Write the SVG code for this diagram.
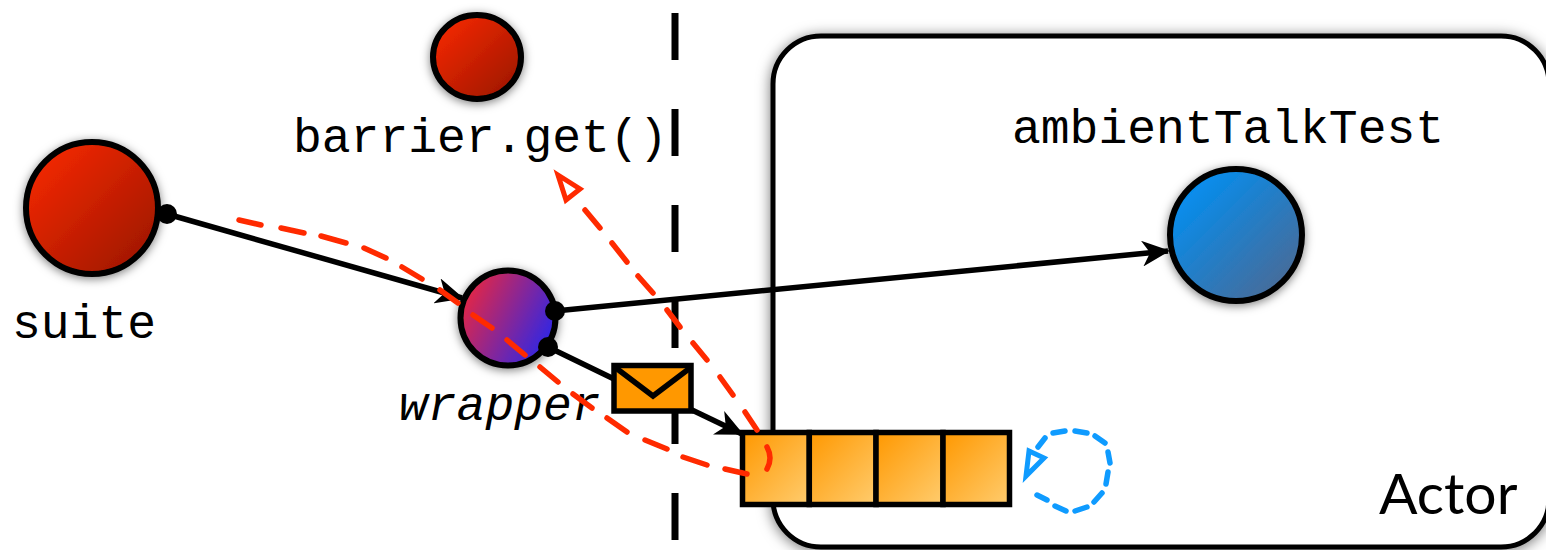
<svg xmlns="http://www.w3.org/2000/svg" width="1546" height="550" viewBox="0 0 1546 550">
<style>
.mono{font-family:"Liberation Mono","DejaVu Sans Mono",monospace;font-size:48px;fill:#000}
.ball{stroke:#000;stroke-width:6;filter:url(#sh)}
.line{fill:none;stroke:#000;stroke-width:5.5}
.dot{fill:#000}
.red{fill:none;stroke:#ff2a00;stroke-width:5.5;stroke-linecap:round}
.blue{fill:none;stroke:#0f9bff;stroke-width:5.5;stroke-linecap:round}
.cell{fill:url(#qg);stroke:#000;stroke-width:5.5}
</style>
<defs>
<linearGradient id="rg" x1="0.1" y1="0.1" x2="0.9" y2="0.9"><stop offset="0" stop-color="#f42800"/><stop offset="1" stop-color="#a01700"/></linearGradient>
<linearGradient id="bg" x1="0.1" y1="0.1" x2="0.9" y2="0.9"><stop offset="0" stop-color="#0090f4"/><stop offset="1" stop-color="#4a6a96"/></linearGradient>
<linearGradient id="wg" x1="0" y1="0.2" x2="1" y2="0.7"><stop offset="0" stop-color="#f0283a"/><stop offset="1" stop-color="#2a26ea"/></linearGradient>
<linearGradient id="qg" x1="0" y1="0" x2="1" y2="1"><stop offset="0" stop-color="#ff9800"/><stop offset="1" stop-color="#ffcc6e"/></linearGradient>
<filter id="sh" x="-30%" y="-30%" width="160%" height="160%"><feDropShadow dx="0" dy="2" stdDeviation="5" flood-color="#000" flood-opacity="0.5"/></filter>
<filter id="sh2" x="-5%" y="-5%" width="110%" height="110%"><feDropShadow dx="0" dy="2" stdDeviation="7" flood-color="#000" flood-opacity="0.55"/></filter>
<marker id="ah" viewBox="0 0 28 26" refX="26" refY="13" markerWidth="28" markerHeight="26" markerUnits="userSpaceOnUse" orient="auto"><path d="M0 0 L28 13 L0 26 L8 13 Z" fill="#000"/></marker>
</defs>

<g id="actor">
<rect x="773" y="36" width="776" height="511" rx="48" ry="48" fill="#fff" stroke="#000" stroke-width="5" filter="url(#sh2)"/>
<text x="1379" y="514" font-family="Lato,'Noto Sans',sans-serif" font-size="57" fill="#000">Actor</text>
</g>
<g id="boundary"><path d="M675 13V60M675 109V156M675 205V252M675 301V348M675 397V444M675 493V540" fill="none" stroke="#000" stroke-width="7"/></g>

<g id="connectors">
<path class="line" d="M167 214L462 298" marker-end="url(#ah)"/>
<path class="line" d="M555 311L1168 251" marker-end="url(#ah)"/>
<path class="line" d="M548 347L614 379"/>
<path class="line" d="M692 410L742 434" marker-end="url(#ah)"/>
</g>

<g id="barrier"><ellipse class="ball" cx="477" cy="57" rx="44" ry="42" fill="url(#rg)"/>
<text class="mono" x="293" y="152">barrier.get()</text></g>
<g id="suite"><circle class="ball" cx="92" cy="208" r="66" fill="url(#rg)"/><circle class="dot" cx="167" cy="214" r="10"/>
<text class="mono" x="12" y="338">suite</text></g>
<g id="wrapper"><circle class="ball" cx="508" cy="318" r="47.5" fill="url(#wg)"/><circle class="dot" cx="555" cy="311" r="10"/><circle class="dot" cx="548" cy="347" r="10"/>
<text class="mono" x="399" y="420" font-style="italic">wrapper</text></g>
<g id="ambientTalkTest"><circle class="ball" cx="1236" cy="235" r="66" fill="url(#bg)"/>
<text class="mono" x="1012" y="143">ambientTalkTest</text></g>

<g id="queue">
<rect class="cell" x="742.5" y="432.5" width="66.8" height="72"/>
<rect class="cell" x="809.3" y="432.5" width="66.8" height="72"/>
<rect class="cell" x="876" y="432.5" width="67" height="72"/>
<rect class="cell" x="943" y="432.5" width="66.5" height="72"/>
</g>
<g id="message">
<rect x="614" y="365.5" width="77" height="45.5" fill="#ff9800" stroke="#000" stroke-width="5.5"/>
<path d="M616 368L653 396L690 368" fill="none" stroke="#000" stroke-width="5.5"/>
</g>

<g id="flows">
<path class="red" d="M239 220L261 225M281 228L304 233M321 236L346 243M364 248L386 258M402 267L422 279M440 290L458 303M473 315L492 328M507 340L525 355M540 367L558 382M573 394L592 408M607 418L627 432M645 440L667 449M683 457L707 465M725 469L747 474M767 447Q773 458 767 469M757 430L745 412M733 395L720 377M707 360L693 343M680 327L667 310M653 293L638 276M627 262L612 243M600 228L585 210"/>
<path d="M558 175L580 189L566 200Z" fill="#fff" stroke="#ff2a00" stroke-width="5"/>
<path class="blue" d="M1038 447L1045 438M1053 433L1065 431M1075 431L1087 433M1095 436L1105 443M1108 452L1110 463M1108 472L1106 484M1102 493L1094 502M1087 507L1075 511M1066 511L1055 506M1047 500L1037 495"/>
<path d="M1026 476L1029 451L1044 458Z" fill="#fff" stroke="#0f9bff" stroke-width="5"/>
</g>
</svg>
